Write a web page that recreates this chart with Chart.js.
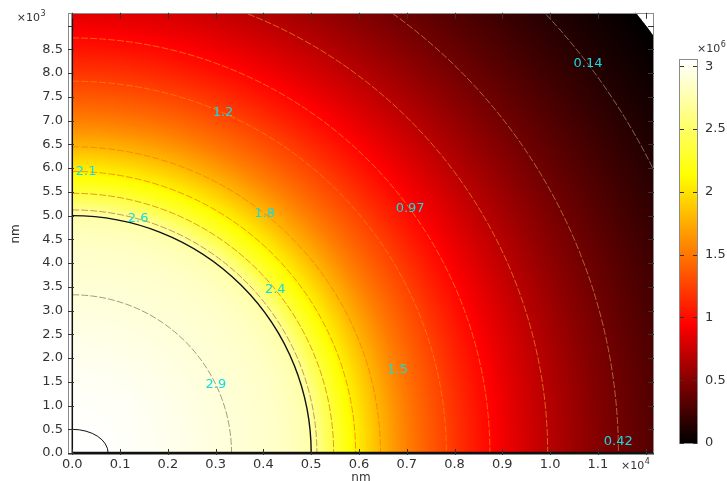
<!DOCTYPE html>
<html><head><meta charset="utf-8">
<style>html,body{margin:0;padding:0;background:#fff;overflow:hidden}#wrap{position:relative;width:727px;height:481px}</style>
<script src="https://cdn.jsdelivr.net/npm/chart.js@4.4.1/dist/chart.umd.min.js"></script>
</head><body><div id="wrap"><canvas id="c" width="727" height="481"></canvas></div>
<script>
// ---- data ----
const contourLevels = [2.91, 2.64, 2.36, 2.08, 1.80, 1.53, 1.25, 0.97, 0.69, 0.42, 0.14];
const contourRadii  = [3333, 5120, 5470, 5930, 6450, 7030, 7830, 8740, 9950, 11430, 13550]; // nm
const contourText   = ['2.9','2.6','2.4','2.1','1.8','1.5','1.2','0.97','0.69','0.42','0.14'];
const centreValue = 3.05;          // value at r = 0
const interfaceRadius = 5000;      // inner material boundary (nm)
const interfaceValue = 2.74;
const outerRadius = 15000;         // outer domain boundary (nm)
const outerValue = 0.0;
const innerEllipse = [750, 500];   // semi-axes (nm)
const colorMin = 0, colorMax = 3.05;
const xTickValues = [0,1000,2000,3000,4000,5000,6000,7000,8000,9000,10000,11000,12000];
const xTickLabels = ['0.0','0.1','0.2','0.3','0.4','0.5','0.6','0.7','0.8','0.9','1.0','1.1',''];
const yTickValues = [0,500,1000,1500,2000,2500,3000,3500,4000,4500,5000,5500,6000,6500,7000,7500,8000,8500,9000];
const yTickLabels = ['0.0','0.5','1.0','1.5','2.0','2.5','3.0','3.5','4.0','4.5','5.0','5.5','6.0','6.5','7.0','7.5','8.0','8.5',''];
const cbTickValues = [0,0.5,1,1.5,2,2.5,3];
const cbTickLabels = ['0','0.5','1','1.5','2','2.5','3'];

// ---- layout / style (not data) ----
const labelAngleDeg = [25.6, 74.4, 39.05, 87.2, 51.4, 14.4, 66.24, 36.0, null, 1.18, 37.2];
const FONT = 'DejaVu Sans';
const TXT = '#333';

// profile through the read values
const prof = [[0, centreValue],[interfaceRadius, interfaceValue],[outerRadius, outerValue]];
contourRadii.forEach((r,i)=>prof.push([r, contourLevels[i]]));
prof.sort((a,b)=>a[0]-b[0]);
const profR = prof.map(p=>p[0]), profV = prof.map(p=>p[1]);

function monotone(xs, ys){
  const n = xs.length, h=[], d=[], m=new Array(n);
  for(let i=0;i<n-1;i++){h[i]=xs[i+1]-xs[i]; d[i]=(ys[i+1]-ys[i])/h[i];}
  m[0]=0; m[n-1]=d[n-2];
  for(let i=1;i<n-1;i++){
    if(d[i-1]*d[i]<=0) m[i]=0;
    else {const w1=2*h[i]+h[i-1], w2=h[i]+2*h[i-1]; m[i]=(w1+w2)/(w1/d[i-1]+w2/d[i]);}
  }
  return function(x){
    if(x<=xs[0]) return ys[0];
    if(x>=xs[n-1]) return ys[n-1];
    let i=0; while(x>xs[i+1]) i++;
    const t=(x-xs[i])/h[i], t2=t*t, t3=t2*t;
    return (2*t3-3*t2+1)*ys[i]+(t3-2*t2+t)*h[i]*m[i]+(-2*t3+3*t2)*ys[i+1]+(t3-t2)*h[i]*m[i+1];
  };
}
const field = monotone(profR, profV);
const cl = v=>Math.max(0,Math.min(1,v));
// thermal colour table: black -> red -> orange -> yellow -> white
function hot(t){ t=cl(t); return [cl(t/0.31), cl((t-0.31)/0.39), cl((t-0.70)/0.30)].map(c=>Math.round(c*255)); }
const rgb = (c,a)=>`rgba(${c[0]},${c[1]},${c[2]},${a===undefined?1:a})`;

function drawSup(ctx, x, y, base, sup, size, align){
  ctx.save();
  ctx.fillStyle = TXT; ctx.textBaseline='alphabetic'; ctx.textAlign='left';
  ctx.font = `${size}px "${FONT}"`;
  const wb = ctx.measureText(base).width;
  ctx.font = `${Math.round(size*0.7)}px "${FONT}"`;
  const ws = ctx.measureText(sup).width;
  let x0 = align==='right' ? x - wb - ws : x;
  ctx.font = `${size}px "${FONT}"`; ctx.fillText(base, x0, y);
  ctx.font = `${Math.round(size*0.7)}px "${FONT}"`; ctx.fillText(sup, x0+wb+0.5, y - size*0.45);
  ctx.restore();
}

const comsol = {
  id:'comsol',
  beforeDatasetsDraw(chart){
    const {ctx, chartArea:a, scales:{x,y}} = chart;
    const w = Math.round(a.right-a.left), h = Math.round(a.bottom-a.top);
    const off = document.createElement('canvas'); off.width=w; off.height=h;
    const oc = off.getContext('2d'); const img = oc.createImageData(w,h); const D = img.data;
    for(let j=0;j<h;j++){
      const yv = y.getValueForPixel(a.top+j+0.5);
      for(let i=0;i<w;i++){
        const xv = x.getValueForPixel(a.left+i+0.5);
        const k=(j*w+i)*4; const r=Math.hypot(xv,yv);
        if(xv<0||yv<0||r>outerRadius){D[k]=D[k+1]=D[k+2]=255;D[k+3]=255;continue;}
        const c = hot((field(r)-colorMin)/(colorMax-colorMin));
        D[k]=c[0];D[k+1]=c[1];D[k+2]=c[2];D[k+3]=255;
      }
    }
    oc.putImageData(img,0,0);
    ctx.save();
    ctx.beginPath(); ctx.rect(a.left,a.top,a.right-a.left,a.bottom-a.top); ctx.clip();
    ctx.drawImage(off, a.left, a.top);
    const cx = x.getPixelForValue(0), cy = y.getPixelForValue(0);
    const arc = (rxv, ryv)=>{ctx.beginPath(); ctx.ellipse(cx,cy,x.getPixelForValue(rxv)-cx, cy-y.getPixelForValue(ryv),0,-Math.PI/2,0);};
    // contour lines, coloured with the reversed colour table
    contourLevels.forEach((lv,i)=>{
      const c = hot(1-(lv-colorMin)/(colorMax-colorMin));
      arc(contourRadii[i], contourRadii[i]);
      ctx.strokeStyle = rgb(c,0.5); ctx.lineWidth = 0.8; ctx.setLineDash([7,2]); ctx.stroke();
    });
    ctx.setLineDash([]);
    // geometry edges
    ctx.strokeStyle='#111';
    arc(interfaceRadius, interfaceRadius); ctx.lineWidth=1.4; ctx.stroke();
    arc(innerEllipse[0], innerEllipse[1]); ctx.lineWidth=1; ctx.stroke();
    arc(outerRadius, outerRadius); ctx.lineWidth=1; ctx.stroke();
    ctx.beginPath(); ctx.moveTo(cx, cy); ctx.lineTo(cx, a.top); ctx.lineWidth=1.5; ctx.stroke();
    ctx.beginPath(); ctx.moveTo(cx, cy); ctx.lineTo(a.right, cy); ctx.lineWidth=2.5; ctx.stroke();
    ctx.restore();
  },
  afterDatasetsDraw(chart){
    const {ctx} = chart;
    const meta = chart.getDatasetMeta(0);
    ctx.save();
    ctx.font = `13px "${FONT}"`; ctx.fillStyle='#14dbe3'; ctx.textAlign='center'; ctx.textBaseline='middle';
    meta.data.forEach((pt,i)=>{ ctx.fillText(chart.data.datasets[0].data[i].t, pt.x, pt.y); });
    ctx.restore();
  },
  afterDraw(chart){
    const {ctx, chartArea:a, scales:{x,y}} = chart;
    ctx.save();
    // frame
    ctx.strokeStyle='#8c8c8c'; ctx.lineWidth=1;
    ctx.strokeRect(Math.round(a.left)+0.5, Math.round(a.top)+0.5, Math.round(a.right-a.left)-1, Math.round(a.bottom-a.top)-1);
    // inward ticks
    ctx.strokeStyle='#333'; ctx.lineWidth=1; ctx.beginPath();
    x.ticks.forEach(t=>{const p=Math.round(x.getPixelForValue(t.value))+0.5;
      ctx.moveTo(p,a.bottom); ctx.lineTo(p,a.bottom-6); ctx.moveTo(p,a.top); ctx.lineTo(p,a.top+6);});
    y.ticks.forEach(t=>{const p=Math.round(y.getPixelForValue(t.value))+0.5;
      ctx.moveTo(a.left,p); ctx.lineTo(a.left+6,p); ctx.moveTo(a.right,p); ctx.lineTo(a.right-6,p);});
    ctx.stroke();
    // exponent labels
    drawSup(ctx, 45, 21, '×10', '3', 11, 'right');
    drawSup(ctx, 621, 469, '×10', '4', 11, 'left');
    // colour bar
    const bx=680, bw=17, bt=60, bb=443;
    const cbPix = v => bb - (v-colorMin)/(colorMax-colorMin)*(bb-bt);
    for(let py=bt; py<bb; py++){
      const v = colorMin + (bb-py-0.5)/(bb-bt)*(colorMax-colorMin);
      ctx.fillStyle = rgb(hot((v-colorMin)/(colorMax-colorMin))); ctx.fillRect(bx,py,bw,1);
    }
    ctx.strokeStyle='#8c8c8c'; ctx.strokeRect(bx-0.5,bt-0.5,bw+1,bb-bt+1);
    ctx.strokeStyle='#333'; ctx.beginPath();
    cbTickValues.forEach(v=>{const p=Math.round(cbPix(v))+0.5; ctx.moveTo(bx,p); ctx.lineTo(bx+4,p); ctx.moveTo(bx+bw,p); ctx.lineTo(bx+bw-4,p);});
    ctx.stroke();
    ctx.fillStyle=TXT; ctx.font=`13px "${FONT}"`; ctx.textAlign='left'; ctx.textBaseline='middle';
    cbTickValues.forEach((v,i)=>ctx.fillText(cbTickLabels[i], 705, cbPix(v)));
    drawSup(ctx, 697, 52, '×10', '6', 11, 'left');
    ctx.restore();
  }
};

const labelPts = [];
contourRadii.forEach((r,i)=>{ if(labelAngleDeg[i]===null) return; const th=labelAngleDeg[i]*Math.PI/180;
  labelPts.push({x:r*Math.cos(th), y:r*Math.sin(th), t:contourText[i]}); });

Chart.defaults.font.family = FONT;
Chart.defaults.font.size = 13;
Chart.defaults.color = TXT;

new Chart(document.getElementById('c'), {
  type:'scatter',
  data:{datasets:[{data:labelPts, pointRadius:0, pointHoverRadius:0, showLine:false}]},
  options:{
    responsive:false, animation:false, events:[], devicePixelRatio:1,
    layout:{padding:{top:10, right:73, left:0, bottom:0}},
    plugins:{legend:{display:false}, tooltip:{enabled:false}},
    scales:{
      x:{type:'linear', min:-90, max:12175,
        afterBuildTicks:s=>{s.ticks = xTickValues.map(v=>({value:v}));},
        afterFit:s=>{s.height=26;},
        ticks:{autoSkip:false, maxRotation:0, padding:2, callback:(v,i)=>xTickLabels[i]},
        grid:{display:false, drawTicks:false}, border:{display:false},
        title:{display:true, text:'nm', padding:{top:0,bottom:0}, font:{size:12, lineHeight:0.6}}
      },
      y:{type:'linear', min:-40, max:9270,
        afterBuildTicks:s=>{s.ticks = yTickValues.map(v=>({value:v}));},
        afterFit:s=>{s.width=68;},
        ticks:{autoSkip:false, padding:5, callback:(v,i)=>yTickLabels[i]},
        grid:{display:false, drawTicks:false}, border:{display:false},
        title:{display:true, text:'nm', padding:{top:10,bottom:0}, font:{size:12, lineHeight:1}}
      }
    }
  },
  plugins:[comsol]
});
</script></body></html>
